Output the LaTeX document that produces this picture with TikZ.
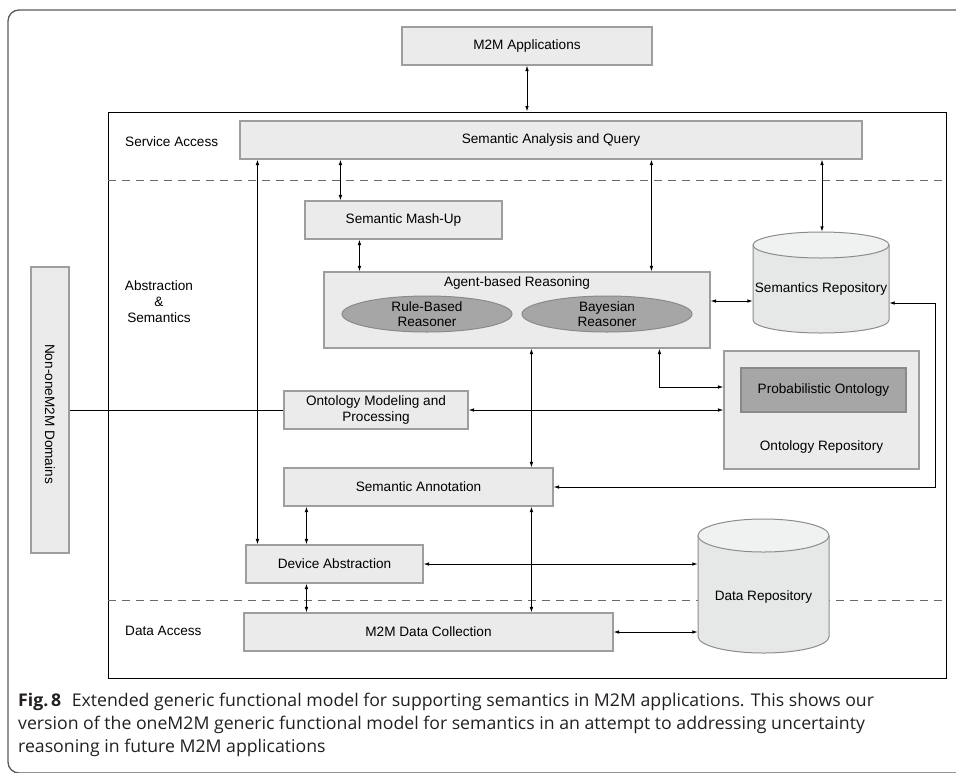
\documentclass[tikz,border=0pt]{standalone}
\usepackage{fontspec}
\setmainfont{Liberation Sans}
\newfontfamily\capfont[FakeStretch=1.01]{Open Sans}
\usetikzlibrary{arrows.meta,calc,shapes.geometric}

\definecolor{boxfill}{HTML}{EBEBEB}
\definecolor{boxline}{HTML}{9E9E9E}
\definecolor{darkfill}{HTML}{A6A6A6}
\definecolor{darkline}{HTML}{8A8A8A}
\definecolor{cylbody}{HTML}{E6E7E7}
\definecolor{cyltop}{HTML}{F0F1F1}
\definecolor{cylline}{HTML}{8C8C8C}
\definecolor{framec}{HTML}{5A5A5A}
\definecolor{dashc}{HTML}{6A6A6A}
\definecolor{captext}{HTML}{231F20}

\newcommand\dfont{\fontsize{13.6}{15.2}\selectfont}

\tikzset{
  box/.style={draw=boxline, fill=boxfill, line width=1.1pt, inner sep=0pt,
    align=center, font=\dfont, text=black},
  oval/.style={ellipse, draw=darkline, fill=darkfill, line width=1pt,
    inner sep=0pt, align=center, font=\dfont},
  txt/.style={inner sep=0pt, align=center, font=\dfont},
  area/.style={inner sep=0pt},
  cyl/.style={draw=cylline, line width=1pt},
  dbl/.style={{Latex[length=5.5pt,width=3.6pt]}-{Latex[length=5.5pt,width=3.6pt]},
    line width=0.9pt, black},
  wire/.style={line width=0.9pt, black},
  layer/.style={dashc, line width=1.1pt, dash pattern=on 8pt off 6pt},
  captxt/.style={anchor=base west, inner sep=0pt, text=captext,
    font=\capfont\fontsize{17.5}{23}\selectfont}
}

\begin{document}
\begin{tikzpicture}[x=1pt, y=-1pt]
  \useasboundingbox (0,0) rectangle (956,772);
  \begin{scope}
    \clip (0,0) rectangle (956,772);
    % open page frame with rounded corners
    \draw[framec, line width=1.3pt, rounded corners=11pt] (8,10) rectangle (1000,773);
  \end{scope}

  % top-level application box
  \node[box, minimum width=250, minimum height=38] (apps) at (527,46) {M2M Applications};

  % framework boundary and layer separators
  \node[area, draw=black, line width=1pt, minimum width=838, minimum height=566] (fw) at (527,395) {};
  \coordinate (d1) at ($(fw.north west)+(0,69)$);
  \coordinate (d2) at ($(fw.north west)+(0,489)$);
  \draw[layer] (d1) -- (d1 -| fw.east);
  \draw[layer] (d2) -- (d2 -| fw.east);

  % layer labels
  \node[txt, anchor=west] (lsa) at (125,142) {Service Access};
  \node[txt, font=\fontsize{13.6}{16}\selectfont] (las) at (159,302) {Abstraction\\\&\\Semantics};
  \node[txt, anchor=west] (lda) at (125,631) {Data Access};

  % functional blocks
  \node[box, minimum width=622, minimum height=38] (saq) at (551,140) {Semantic Analysis and Query};
  \node[box, minimum width=197, minimum height=38] (mash) at (403.5,220) {Semantic Mash-Up};
  \node[box, minimum width=386, minimum height=76] (agent) at (517,310) {};
  \node[txt] (agentlbl) at (517,283) {Agent-based Reasoning};
  \node[oval, minimum width=170, minimum height=36] (rule) at (427,314) {Rule-Based\\Reasoner};
  \node[oval, minimum width=170, minimum height=36] (bayes) at (607,314) {Bayesian\\Reasoner};
  \node[box, minimum width=184, minimum height=38] (omp) at (376,410) {Ontology Modeling and\\Processing};
  \node[box, minimum width=195, minimum height=118] (onto) at (821.5,410) {};
  \node[box, draw=darkline, fill=darkfill, minimum width=165, minimum height=44] (prob) at (823.5,390) {Probabilistic Ontology};
  \node[txt] (ontolbl) at (821.5,447) {Ontology Repository};
  \node[box, minimum width=269, minimum height=38] (semann) at (418.5,487) {Semantic Annotation};
  \node[box, minimum width=177, minimum height=38] (devabs) at (334.5,564) {Device Abstraction};
  \node[box, minimum width=369, minimum height=38] (coll) at (428.5,632) {M2M Data Collection};
  \node[box, minimum width=38, minimum height=286] (nonone) at (50,410) {};
  \node[txt, rotate=-90] (nonlbl) at (50,414) {Non-oneM2M Domains};

  % semantics repository (cylinder)
  \fill[cylbody] (753,245) -- (753,320) arc[start angle=180, end angle=0, x radius=68, y radius=13] -- (889,245) -- cycle;
  \draw[cyl] (753,245) -- (753,320) arc[start angle=180, end angle=0, x radius=68, y radius=13] -- (889,245);
  \draw[cyl, fill=cyltop] (821,245) ellipse[x radius=68, y radius=13];
  \node[area, minimum width=136, minimum height=101] (semrepo) at (821,282.5) {};
  \node[txt] (semrepolbl) at (821,289) {Semantics Repository};

  % data repository (cylinder)
  \fill[cylbody] (698,535.5) -- (698,636.5) arc[start angle=180, end angle=0, x radius=65.5, y radius=16.5] -- (829,535.5) -- cycle;
  \draw[cyl] (698,535.5) -- (698,636.5) arc[start angle=180, end angle=0, x radius=65.5, y radius=16.5] -- (829,535.5);
  \draw[cyl, fill=cyltop] (763.5,535.5) ellipse[x radius=65.5, y radius=16.5];
  \node[area, minimum width=131, minimum height=134] (datarepo) at (763.5,586) {};
  \node[txt] (datarepolbl) at (763.5,597) {Data Repository};

  % connectors
  \draw[dbl] (apps.south) -- (apps.south |- fw.north);

  \coordinate (a1) at ($(saq.south west)+(18,0)$);
  \draw[dbl] (a1) -- (a1 |- devabs.north);

  \coordinate (a2) at ($(mash.north west)+(36,0)$);
  \draw[dbl] (a2 |- saq.south) -- (a2);

  \coordinate (a3) at ($(mash.south west)+(55,0)$);
  \draw[dbl] (a3) -- (a3 |- agent.north);

  \coordinate (a4) at ($(agent.north west)+(328,0)$);
  \draw[dbl] (a4 |- saq.south) -- (a4);

  \coordinate (a5) at ($(semrepo.north)+(1,0)$);
  \draw[dbl] (a5 |- saq.south) -- (a5);

  \coordinate (a6) at ($(agent.east)+(0,-9)$);
  \draw[dbl] (a6) -- (a6 -| semrepo.west);

  \coordinate (a7) at ($(semrepo.east)+(0,20.5)$);
  \draw[dbl] (a7) -- ++(46,0) |- (semann.east);

  \coordinate (a8) at ($(agent.south west)+(336,0)$);
  \coordinate (a9) at ($(onto.west)+(0,-23)$);
  \draw[dbl] (a8) |- (a9);

  \draw[dbl] (omp.east) -- (onto.west);
  \draw[wire] (nonone.east) -- (omp.west);

  \coordinate (b1) at ($(agent.south west)+(208,0)$);
  \draw[dbl] (b1) -- (b1 |- semann.north);
  \coordinate (b2) at ($(semann.south west)+(248,0)$);
  \draw[dbl] (b2) -- (b2 |- coll.north);

  \coordinate (b3) at ($(semann.south west)+(23,0)$);
  \draw[dbl] (b3) -- (b3 |- devabs.north);
  \coordinate (b4) at ($(devabs.south west)+(61,0)$);
  \draw[dbl] (b4) -- (b4 |- coll.north);

  \draw[dbl] (devabs.east) -- (devabs.east -| datarepo.west);
  \draw[dbl] (coll.east) -- (coll.east -| datarepo.west);

  % caption
  \node[captxt] (cap1) at (18,706) {{\bfseries Fig.\,8}\hspace{0.6em}Extended generic functional model for supporting semantics in M2M applications. This shows our};
  \node[captxt] (cap2) at (18,729) {version of the oneM2M generic functional model for semantics in an attempt to addressing uncertainty};
  \node[captxt] (cap3) at (18,752) {reasoning in future M2M applications};
\end{tikzpicture}
\end{document}
